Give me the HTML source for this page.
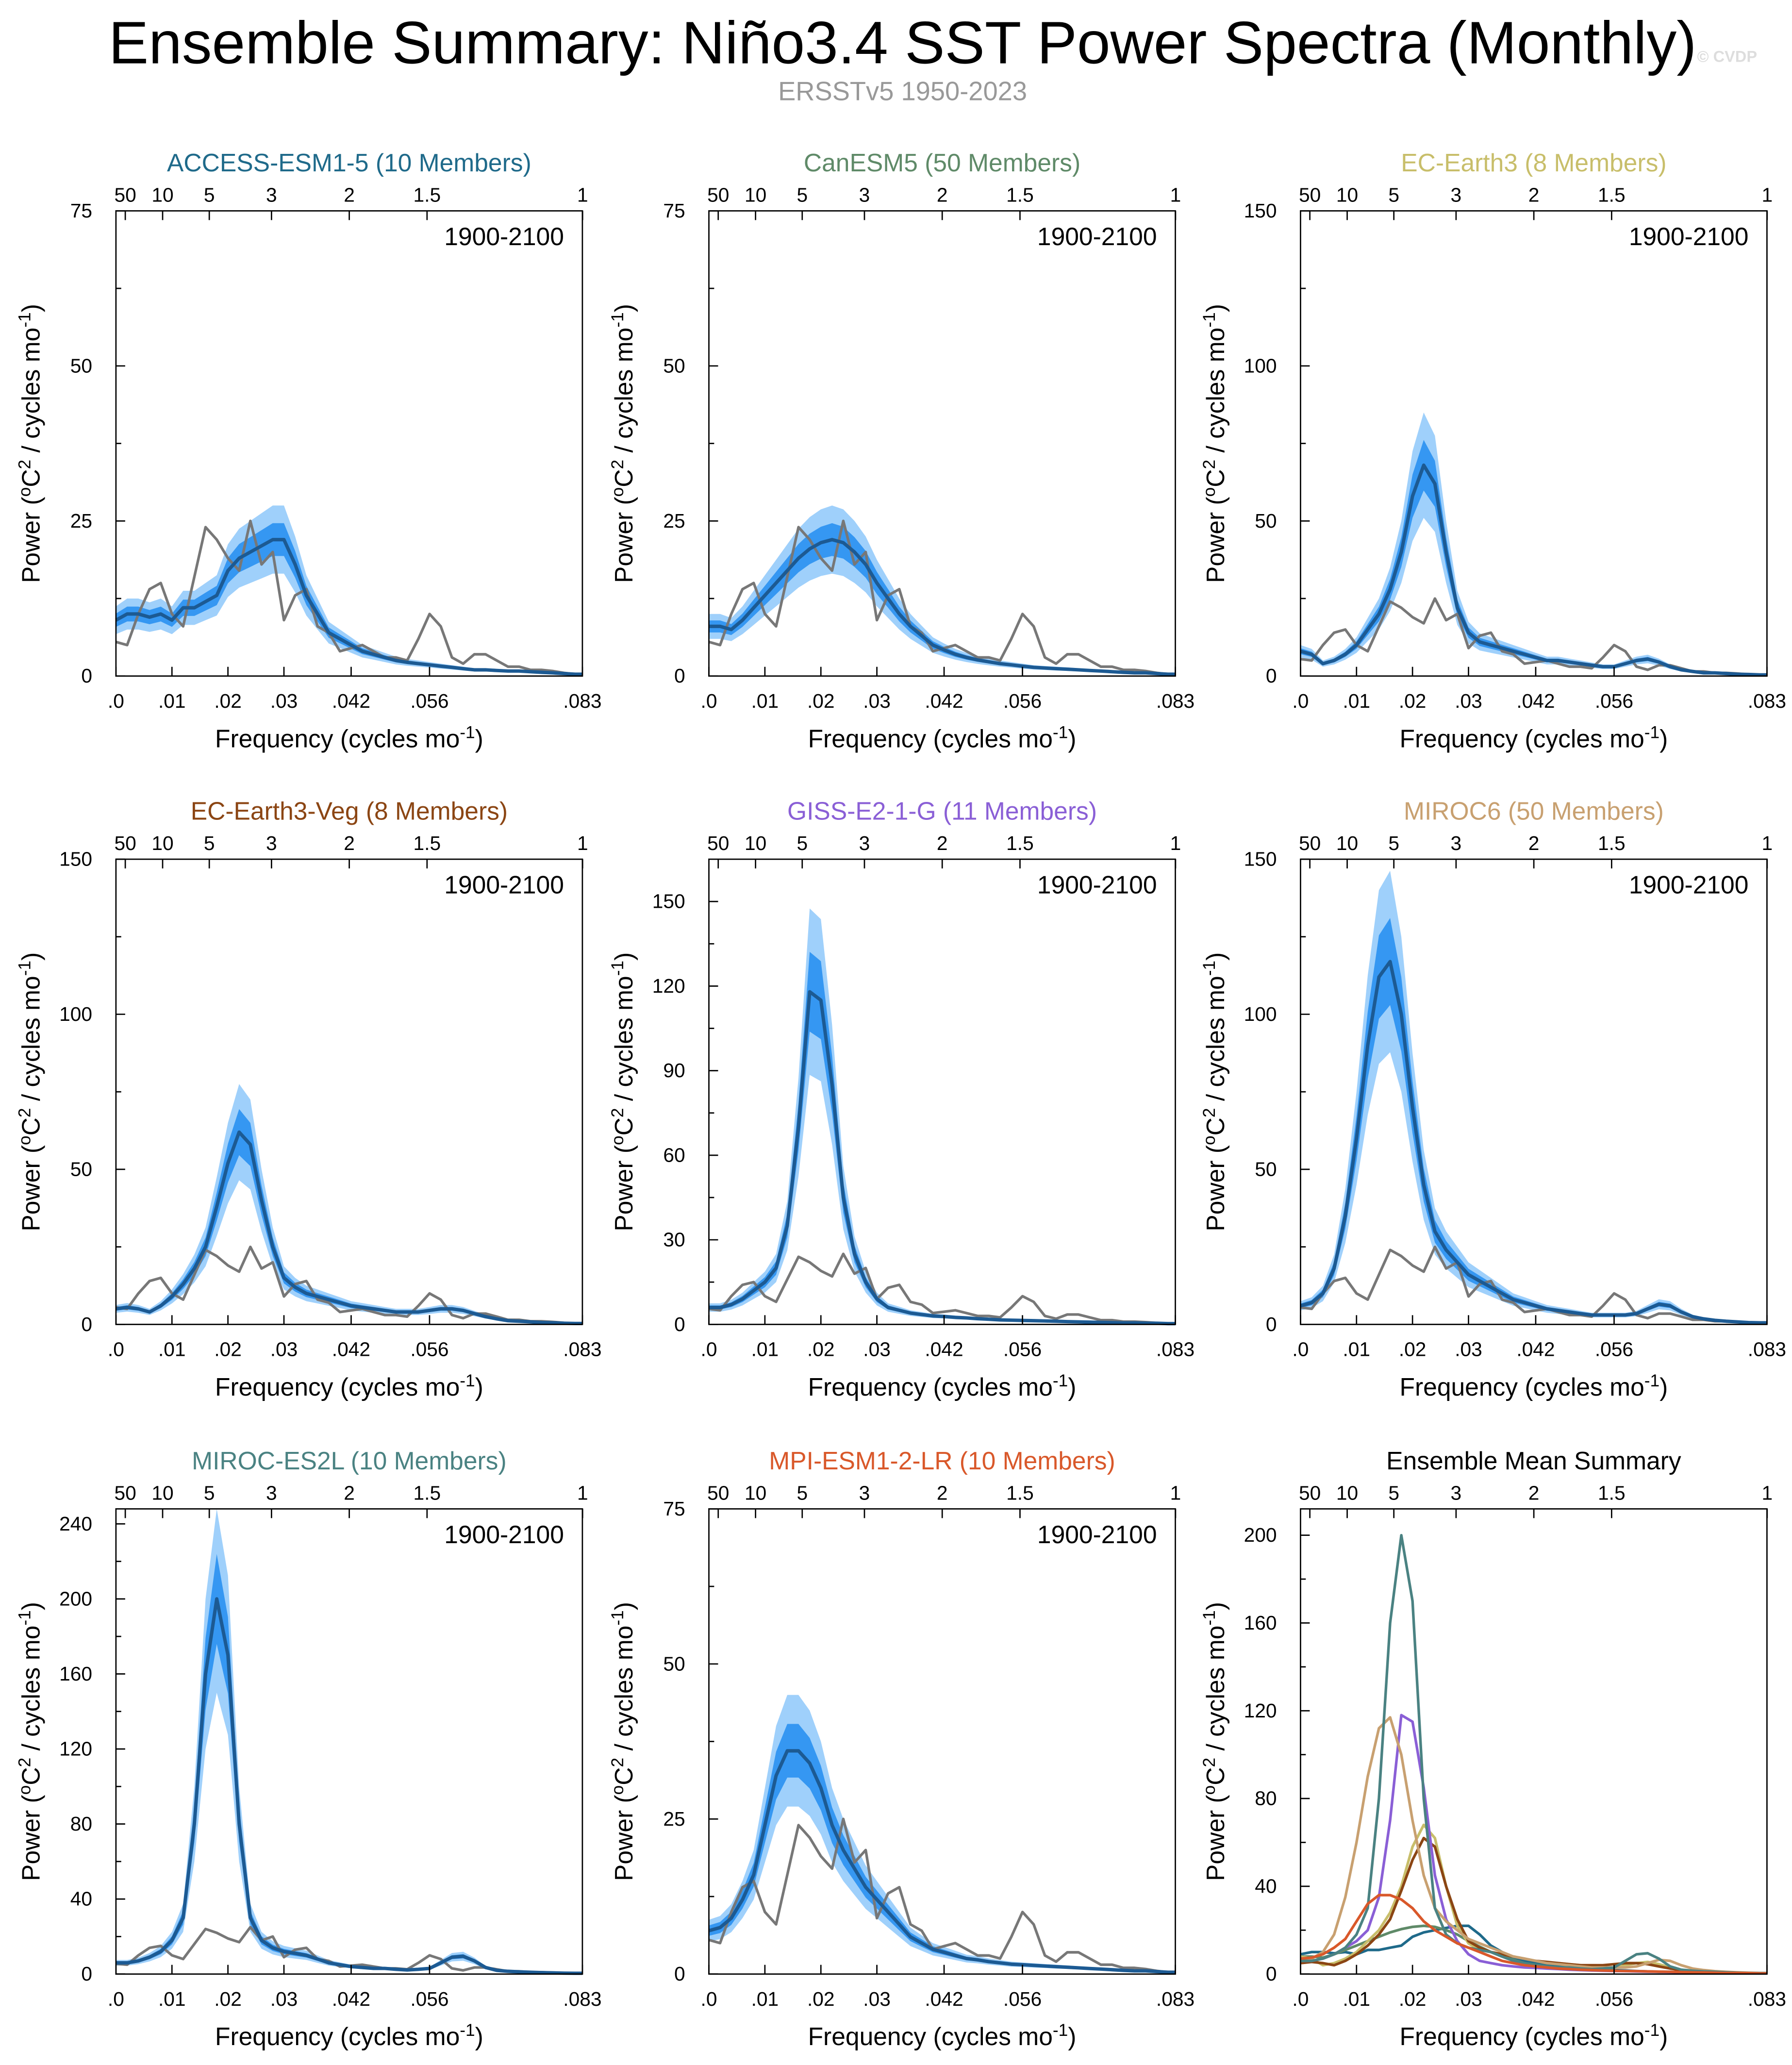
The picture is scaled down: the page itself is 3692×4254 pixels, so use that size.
<!DOCTYPE html>
<html><head><meta charset="utf-8">
<style>
html,body{margin:0;padding:0;background:#fff;}
svg{display:block;font-family:"Liberation Sans",Arial,sans-serif;}
</style></head>
<body>
<svg id="fig" width="3692" height="4254" viewBox="0 0 1360 1567" xmlns="http://www.w3.org/2000/svg">
<text x="685" y="48" text-anchor="middle" font-size="45.5">Ensemble Summary: Niño3.4 SST Power Spectra (Monthly)</text>
<text x="685" y="76" text-anchor="middle" font-size="20" fill="#999">ERSSTv5 1950-2023</text>
<text x="1288" y="47" font-size="12" fill="#ddd" font-weight="bold">© CVDP</text>
</svg>
<script>
const freqs=[0,.002,.004,.006,.008,.010,.012,.014,.016,.018,.020,.022,.024,.026,.028,.030,.032,.034,.036,.038,.040,.042,.044,.046,.048,.050,.052,.054,.056,.058,.060,.062,.064,.066,.068,.070,.072,.074,.076,.078,.080,.082,.0833];
const obs=[5.5,5,10,14,15,10,8,16,24,22,19,17,25,18,20,9,13,14,8,7,4,4.5,5,4,3,3,2.5,6,10,8,3,2,3.5,3.5,2.5,1.5,1.5,1,1,.8,.5,.3,.3];
const accessMean=[9,10,10,9.5,10,9,11,11,12,13,17,19,20,21,22,22,18,13,10,7,6,5,4,3.5,3,2.5,2.2,2,1.8,1.6,1.4,1.2,1,1,.9,.8,.8,.7,.6,.5,.4,.3,.3];
const canesmMean=[8,8,7.5,9,11,13,15,17,19,20.5,21.5,22,21.5,20,18,15,12.5,10,8,6.5,5,4.2,3.5,3,2.6,2.3,2,1.8,1.6,1.4,1.3,1.2,1.1,1,.9,.8,.7,.6,.5,.5,.4,.3,.3];
const ecearthMean=[8,7,4,5,7,10,15,20,28,40,58,68,62,40,22,14,11,10,9,8,7,6,5,5,4.5,4,3.5,3,3,4,5,5.5,4.5,3,2,1.5,1,1,.8,.6,.5,.4,.4];
const ecvegMean=[5,5.5,5,4,6,9,13,18,25,38,52,62,58,40,25,15,12,10,9,8,7,6,5.5,5,4.5,4,4,4,4.5,5,5,4.5,3.5,2.5,1.8,1.2,1,.8,.6,.5,.4,.3,.3];
const gissMean=[6,6,7,9,12,15,20,35,70,118,115,85,45,25,15,9,6,5,4,3.5,3,2.8,2.5,2.3,2,1.8,1.6,1.5,1.4,1.3,1.2,1.1,1,.9,.8,.7,.6,.5,.5,.4,.4,.3,.3];
const miroc6Mean=[6,7,10,18,35,60,90,112,117,100,70,45,30,24,20,16,14,12,10,8,7,6,5,4.5,4,3.5,3,3,3,3,3.5,5,6.5,6,4,2.5,1.8,1.3,1,.8,.6,.5,.5];
const mirocEs2lMean=[6,6,7,9,12,18,30,80,160,200,170,80,30,18,14,12,11,10,8,6,5,4,3.5,3,3,2.5,2.2,2.5,3,6,9,9.5,7,3.5,2,1.5,1.2,1,.8,.6,.5,.4,.4];
const mpiMean=[7,7.5,9,12,16,24,32,36,36,34,30,24,20,17,14,12,10,8,6,5,4,3.5,3,2.5,2.3,2,1.8,1.6,1.5,1.4,1.3,1.2,1.1,1,.9,.8,.7,.6,.5,.5,.4,.3,.3];
const periodLabels=["50","10","5","3","2","1.5","1"];
const periodYears=[50,10,5,3,2,1.5,1];
const freqTickLabels=[".0",".01",".02",".03",".042",".056",".083"];
const freqTickVals=[0,.01,.02,.03,.042,.056,.0833];

const models=[
 {name:"ACCESS-ESM1-5 (10 Members)",color:"#1f6a8a",mean:accessMean,ymax:75,ticks:[0,25,50,75],col:0,row:0,key:"access"},
 {name:"CanESM5 (50 Members)",color:"#5f8a68",mean:canesmMean,ymax:75,ticks:[0,25,50,75],col:1,row:0,key:"canesm5"},
 {name:"EC-Earth3 (8 Members)",color:"#c8be6a",mean:ecearthMean,ymax:150,ticks:[0,50,100,150],col:2,row:0,key:"ec-earth3"},
 {name:"EC-Earth3-Veg (8 Members)",color:"#8b4513",mean:ecvegMean,ymax:150,ticks:[0,50,100,150],col:0,row:1,key:"ec-earth3-veg"},
 {name:"GISS-E2-1-G (11 Members)",color:"#8a5fd6",mean:gissMean,ymax:165,ticks:[0,30,60,90,120,150],col:1,row:1,key:"giss"},
 {name:"MIROC6 (50 Members)",color:"#c8a070",mean:miroc6Mean,ymax:150,ticks:[0,50,100,150],col:2,row:1,key:"miroc6"},
 {name:"MIROC-ES2L (10 Members)",color:"#4a8282",mean:mirocEs2lMean,ymax:248,ticks:[0,40,80,120,160,200,240],col:0,row:2,key:"miroc-es2l"},
 {name:"MPI-ESM1-2-LR (10 Members)",color:"#d9582a",mean:mpiMean,ymax:75,ticks:[0,25,50,75],col:1,row:2,key:"mpi"}
];
const NS="http://www.w3.org/2000/svg";
const svg=document.getElementById("fig");
const colX=[88,538,987], rowY=[160,652,1145], W=354, H=353, XMAX=0.0833;
function mk(tag,attrs,parent){const e=document.createElementNS(NS,tag);for(const k in attrs)e.setAttribute(k,attrs[k]);(parent||svg).appendChild(e);return e;}

function drawPanel(x0,y0,ymax,ticks,title,titleColor,isSummary,key){
 const g=mk("g",{});
 
 
 const sx=f=>x0+f/XMAX*W, sy=v=>y0+H-Math.min(v,ymax)/ymax*H;
 const t=mk("text",{x:x0+W/2,y:y0-30,"text-anchor":"middle","font-size":19,fill:titleColor},g);
 t.textContent=title;
 
 
 return {g,sx,sy};
}
function frame(p,x0,y0,ymax,ticks,key){
 const g=p.g;
 const r=mk("rect",{x:x0,y:y0,width:W,height:H,fill:"none",stroke:"#000","stroke-width":1},g);
 
 
 periodYears.forEach((P,i)=>{const x=p.sx(1/(12*P));
  mk("line",{x1:x,y1:y0,x2:x,y2:y0+7,stroke:"#000"},g);
  const tl=mk("text",{x:x,y:y0-7,"text-anchor":"middle","font-size":15},g);tl.textContent=periodLabels[i];
  
  
 });
 freqTickVals.forEach((f,i)=>{const x=p.sx(f);
  mk("line",{x1:x,y1:y0+H,x2:x,y2:y0+H-7,stroke:"#000"},g);
  const tl=mk("text",{x:x,y:y0+H+24,"text-anchor":"middle","font-size":15},g);tl.textContent=freqTickLabels[i];
  
  
 });
 ticks.forEach(v=>{const y=p.sy(v);
  mk("line",{x1:x0,y1:y,x2:x0+7,y2:y,stroke:"#000"},g);
  const tl=mk("text",{x:x0-18,y:y+5,"text-anchor":"end","font-size":15},g);tl.textContent=v;
  
  
 });
 for(let i=0;i<ticks.length-1;i++){const m=(ticks[i]+ticks[i+1])/2;const y=p.sy(m);mk("line",{x1:x0,y1:y,x2:x0+4,y2:y,stroke:"#000"},g);}
 const xt=mk("text",{x:x0+W/2,y:y0+H+54,"text-anchor":"middle","font-size":19},g);
 xt.innerHTML='Frequency (cycles mo<tspan dy="-7" font-size="13">-1</tspan><tspan dy="7">)</tspan>';
 
 
 const yx=x0-58, yy=y0+H/2;
 const yt=mk("text",{x:yx,y:yy,"text-anchor":"middle","font-size":19,transform:`rotate(-90 ${yx} ${yy})`},g);
 yt.innerHTML='Power (<tspan dy="-7" font-size="13">o</tspan><tspan dy="7">C</tspan><tspan dy="-7" font-size="13">2</tspan><tspan dy="7"> / cycles mo</tspan><tspan dy="-7" font-size="13">-1</tspan><tspan dy="7">)</tspan>';
 
 
}
function linePath(p,vals){return vals.map((v,i)=>(i?"L":"M")+p.sx(freqs[i]).toFixed(1)+","+p.sy(v).toFixed(1)).join("");}
function bandPath(p,vals,fl,fh){let d=vals.map((v,i)=>(i?"L":"M")+p.sx(freqs[i]).toFixed(1)+","+p.sy(v*fh).toFixed(1)).join("");
 for(let i=vals.length-1;i>=0;i--)d+="L"+p.sx(freqs[i]).toFixed(1)+","+p.sy(vals[i]*fl).toFixed(1);return d+"Z";}

models.forEach(m=>{
 const x0=colX[m.col],y0=rowY[m.row];
 const p=drawPanel(x0,y0,m.ymax,m.ticks,m.name,m.color,false,m.key);
 const ob=mk("path",{d:bandPath(p,m.mean,0.75,1.25),fill:"#9fd0fb",stroke:"none"},p.g);
 
 
 const ib=mk("path",{d:bandPath(p,m.mean,0.88,1.12),fill:"#3597f2",stroke:"none"},p.g);
 
 
 const ol=mk("path",{d:linePath(p,obs),fill:"none",stroke:"#777","stroke-width":2,"stroke-linejoin":"round"},p.g);
 
 
 const ml=mk("path",{d:linePath(p,m.mean),fill:"none",stroke:"#1c5a93","stroke-width":2.6,"stroke-linejoin":"round"},p.g);
 
 
 const yr=mk("text",{x:x0+W-14,y:y0+26,"text-anchor":"end","font-size":19},p.g);yr.textContent="1900-2100";
 
 
 frame(p,x0,y0,m.ymax,m.ticks,m.key);
});
(function(){
 const x0=colX[2],y0=rowY[2],ymax=212,ticks=[0,40,80,120,160,200];
 const p=drawPanel(x0,y0,ymax,ticks,"Ensemble Mean Summary","#000",true,"summary");
 models.forEach(m=>{
  const l=mk("path",{d:linePath(p,m.mean),fill:"none",stroke:m.color,"stroke-width":2,"stroke-linejoin":"round"},p.g);
  
  
 });
 frame(p,x0,y0,ymax,ticks,"summary");
})();
</script>
</body></html>
